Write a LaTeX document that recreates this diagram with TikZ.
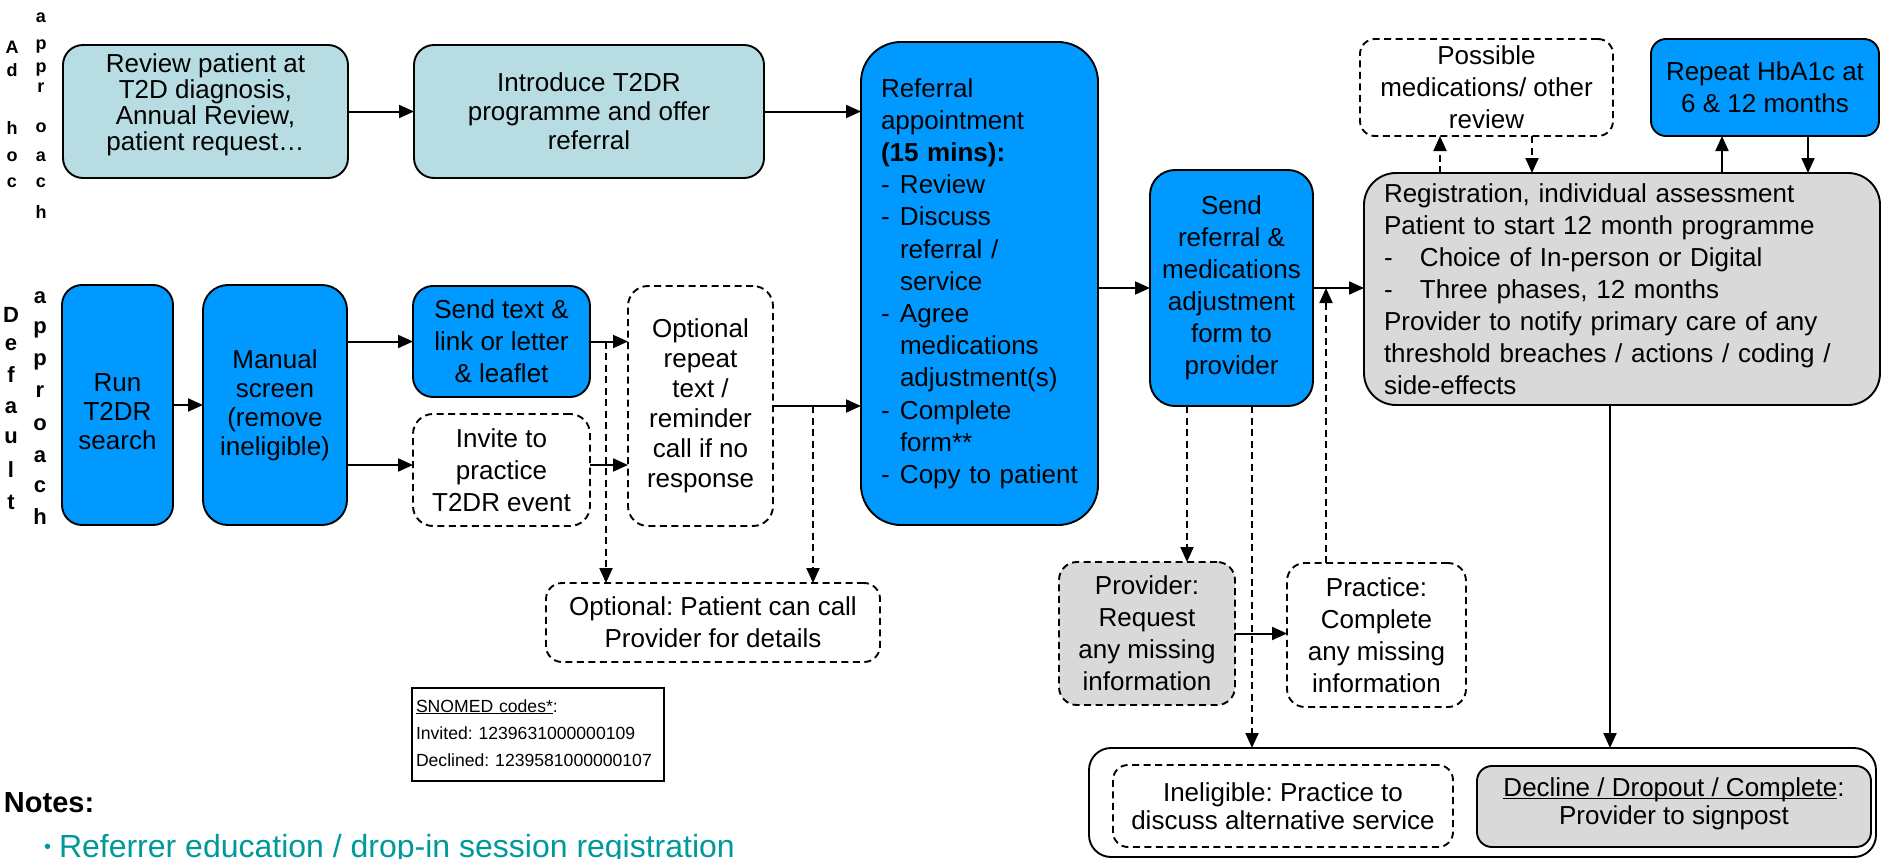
\documentclass[tikz,border=0pt]{standalone}
\usepackage{fontspec}
\setmainfont{Liberation Sans}
\usetikzlibrary{arrows.meta,calc}
\definecolor{tealbox}{RGB}{183,221,227}
\definecolor{bluebox}{RGB}{0,153,255}
\definecolor{greybox}{RGB}{217,217,217}
\definecolor{noteteal}{RGB}{0,153,153}
\newcommand{\refdash}{\makebox[19pt][l]{-}}
\newcommand{\refind}{\hspace*{19pt}}
\newcommand{\regdash}{\makebox[36pt][l]{-}}
\newcommand{\myul}[1]{\underline{\smash{#1}}}
\frenchspacing
\begin{document}
\begin{tikzpicture}[x=1pt,y=-1pt,
  every node/.style={inner sep=0pt,outer sep=0pt},
  bx/.style={draw=black,line width=1.9pt,rounded corners=20pt,align=center,font=\fontsize{26}{32}\selectfont},
  dsh/.style={dash pattern=on 7pt off 4.5pt},
  arr/.style={line width=2pt,-{Triangle[length=15pt,width=13pt]}},
  darr/.style={arr,dsh},
  lettA/.style={font=\bfseries\fontsize{18}{18}\selectfont},
  lettB/.style={font=\bfseries\fontsize{22}{22}\selectfont}]
\fill[white] (0,0) rectangle (1883,859);
\useasboundingbox (0,0) rectangle (1883,859);

% side labels
\foreach \ch/\yy [count=\i] in {A/47,d/70,h/128,o/157,c/183}
  \node[lettA] (adhocA\i) at (12,\yy) {\ch};
\foreach \ch/\yy [count=\i] in {a/18,p/47,p/70,r/88,o/128,a/157,c/183,h/212}
  \node[lettA] (adhocB\i) at (41,\yy) {\ch};
\foreach \ch/\yy [count=\i] in {D/315,e/345,f/375,a/408,u/438,l/470,t/502}
  \node[lettB] (defA\i) at (11,\yy) {\ch};
\foreach \ch/\yy [count=\i] in {a/298,p/330,p/362,r/392,o/425,a/457,c/487,h/517}
  \node[lettB] (defB\i) at (40,\yy) {\ch};

% top row
\node[bx,fill=tealbox,minimum width=285pt,minimum height=133pt] (review) at (205.5,111.5) {};
\node[align=center,font=\fontsize{26}{26}\selectfont] (reviewtxt) at ([yshift=7pt]review.center)
  {Review patient at\\T2D diagnosis,\\Annual Review,\\patient request…};
\node[bx,fill=tealbox,minimum width=350pt,minimum height=133pt,font=\fontsize{26}{29}\selectfont] (intro) at (589,111.5)
  {Introduce T2DR\\programme and offer\\referral};
\node[bx,fill=bluebox,rounded corners=40pt,minimum width=237pt,minimum height=483pt,align=left,text width=197pt,font=\fontsize{26}{32.2}\selectfont] (referral) at (979.5,283.5)
  {Referral\\appointment\\\textbf{(15 mins):}\\\refdash Review\\\refdash Discuss\\\refind referral /\\\refind service\\\refdash Agree\\\refind medications\\\refind adjustment(s)\\\refdash Complete\\\refind form**\\\refdash Copy to patient};

% default row
\node[bx,fill=bluebox,minimum width=111pt,minimum height=240pt] (run) at (117.5,405) {};
\node[align=center,font=\fontsize{26}{29}\selectfont] (runtxt) at ([yshift=-7pt]run.center) {Run\\T2DR\\search};
\node[bx,fill=bluebox,minimum width=144pt,minimum height=240pt,rounded corners=25pt,font=\fontsize{26}{29}\selectfont] (manual) at (275,405) {Manual\\screen\\(remove\\ineligible)};
\node[bx,fill=bluebox,minimum width=177pt,minimum height=111pt] (sendtext) at (501.5,341.5) {Send text \&\\link or letter\\\& leaflet};
\node[bx,dsh,fill=white,minimum width=177pt,minimum height=112pt] (invite) at (501.5,470) {Invite to\\practice\\T2DR event};
\node[bx,dsh,fill=white,minimum width=145pt,minimum height=240pt,font=\fontsize{26}{30}\selectfont] (optrep) at (700.5,406) {Optional\\repeat\\text /\\reminder\\call if no\\response};
\node[bx,dsh,fill=white,minimum width=334pt,minimum height=79pt,rounded corners=16pt] (optpat) at (713,622.5) {Optional: Patient can call\\Provider for details};

% middle right
\node[bx,fill=bluebox,minimum width=163pt,minimum height=236pt,rounded corners=25pt] (sendref) at (1231.5,288) {Send\\referral \&\\medications\\adjustment\\form to\\provider};
\node[bx,dsh,fill=greybox,minimum width=176pt,minimum height=143pt,rounded corners=18pt] (provider) at (1147,633.5) {Provider:\\Request\\any missing\\information};
\node[bx,dsh,fill=white,minimum width=179pt,minimum height=144pt,rounded corners=18pt] (practice) at (1376.5,635) {Practice:\\Complete\\any missing\\information};

% top right
\node[bx,dsh,fill=white,minimum width=253pt,minimum height=97pt,rounded corners=15pt] (possible) at (1486.5,87.5) {Possible\\medications/ other\\review};
\node[bx,fill=bluebox,minimum width=228pt,minimum height=97pt,rounded corners=15pt] (repeat) at (1765,87.5) {Repeat HbA1c at\\6 \& 12 months};
\node[bx,fill=greybox,minimum width=516pt,minimum height=232pt,rounded corners=32pt,align=left,text width=476pt] (registration) at (1622,289)
  {Registration, individual assessment\\Patient to start 12 month programme\\\regdash Choice of In-person or Digital\\\regdash Three phases, 12 months\\Provider to notify primary care of any\\threshold breaches / actions / coding /\\side-effects};

% bottom right
\node[bx,minimum width=787pt,minimum height=109pt,rounded corners=22pt] (container) at (1482.5,802.5) {};
\node[bx,dsh,fill=white,minimum width=340pt,minimum height=82pt,rounded corners=15pt,font=\fontsize{26}{28}\selectfont] (inelig) at (1283,806) {Ineligible: Practice to\\discuss alternative service};
\node[bx,fill=greybox,minimum width=394pt,minimum height=81pt,rounded corners=15pt,font=\fontsize{26}{28}\selectfont] (decline) at (1674,806.5) {\myul{Decline / Dropout / Complete}:\\Provider to signpost};

% bottom left
\node[draw=black,line width=1.9pt,minimum width=252pt,minimum height=93pt,align=left,text width=244pt,font=\fontsize{17.6}{27}\selectfont] (snomed) at (538,734.5)
  {\myul{SNOMED codes*}:\\Invited: 1239631000000109\\Declined: 1239581000000107};
\node[anchor=base west,font=\bfseries\fontsize{29}{29}\selectfont] (notes) at (4,812) {Notes:};
\node[anchor=base west,text=noteteal,font=\fontsize{32}{32}\selectfont] (bullet) at (44,857) {\raisebox{0.12em}{\fontsize{20}{20}\selectfont\textbullet}\hspace{8pt}Referrer education / drop-in session registration};

% coordinates for connector columns
\coordinate (xA) at (606,0);
\coordinate (xB) at (813,0);
\coordinate (xC) at (1187,0);
\coordinate (xD) at (1252,0);
\coordinate (j1) at (1326,288);
\coordinate (xE) at (1440,0);
\coordinate (xF) at (1532,0);
\coordinate (xG) at (1722,0);
\coordinate (xH) at (1808,0);
\coordinate (xI) at (1610,0);
\path ([yshift=5pt]invite.west) coordinate (invW);
\path ([yshift=5pt]invite.east) coordinate (invE);

% connectors
\draw[arr] (review) -- (intro);
\draw[arr] (intro.east) -- (intro.east -| referral.west);
\draw[arr] (run) -- (manual);
\draw[arr] (manual.east |- sendtext.west) -- (sendtext.west);
\draw[arr] (manual.east |- invW) -- (invW);
\draw[arr] (sendtext.east) -- (sendtext.east -| optrep.west);
\draw[arr] (invE) -- (invE -| optrep.west);
\draw[arr] (optrep.east) -- (optrep.east -| referral.west);
\draw[darr] (sendtext.east -| xA) -- (xA |- optpat.north);
\draw[darr] (optrep.east -| xB) -- (xB |- optpat.north);
\draw[arr] (referral.east |- sendref.west) -- (sendref.west);
\draw[arr] (sendref.east) -- (sendref.east -| registration.west);
\draw[darr] (sendref.south -| xC) -- (xC |- provider.north);
\draw[darr] (sendref.south -| xD) -- (xD |- container.north);
\draw[arr] (provider.east) -- (provider.east -| practice.west);
\draw[darr] (j1 |- practice.north) -- (j1);
\draw[darr] (registration.north -| xE) -- (xE |- possible.south);
\draw[darr] (possible.south -| xF) -- (xF |- registration.north);
\draw[arr] (registration.north -| xG) -- (xG |- repeat.south);
\draw[arr] (repeat.south -| xH) -- (xH |- registration.north);
\draw[arr] (registration.south -| xI) -- (xI |- container.north);
\end{tikzpicture}
\end{document}
